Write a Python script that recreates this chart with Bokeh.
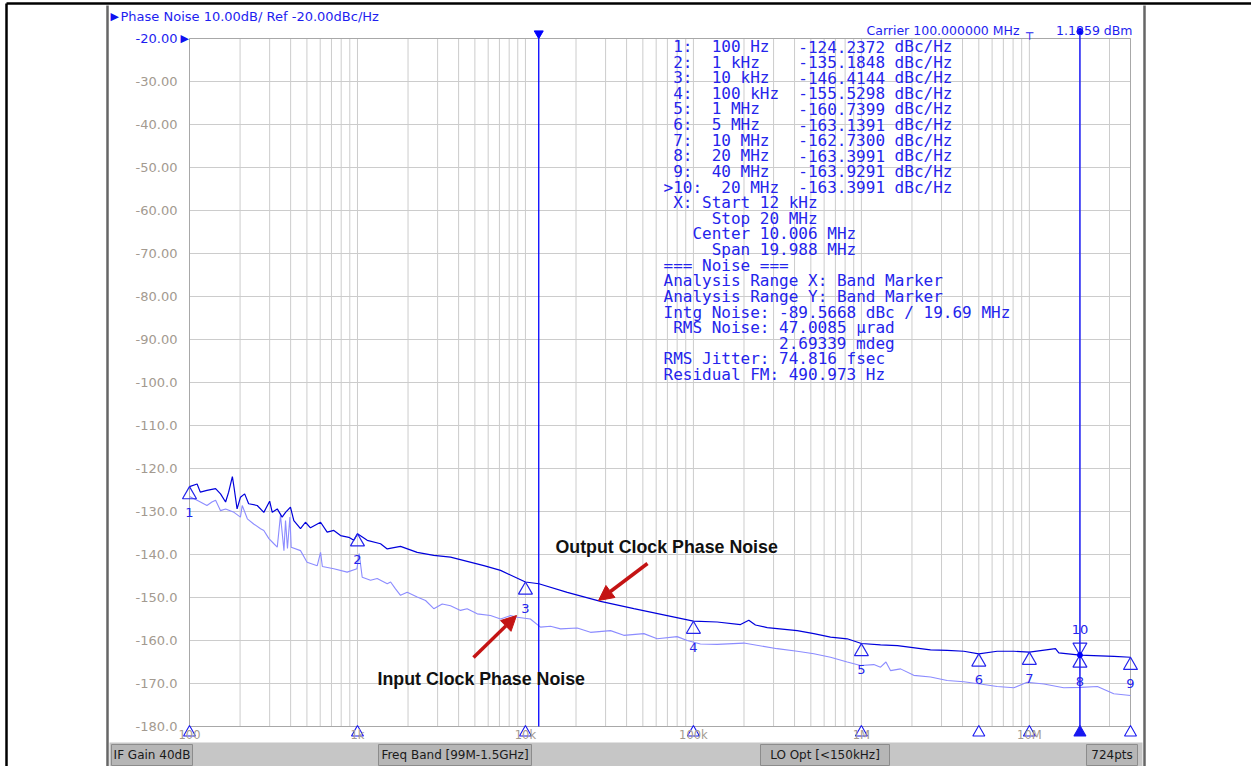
import math
from bokeh.plotting import figure
from bokeh.models import FixedTicker, Arrow, NormalHead, Range1d
from bokeh.embed import file_html
from bokeh.resources import INLINE
from bokeh.core.properties import value

# ---------------- data ----------------
out_freq = [100, 111, 116, 127, 143, 153, 164, 171, 180, 184,
            192, 201, 213, 225, 253, 277, 300, 311, 333, 356,
            373, 399, 418, 458, 490, 525, 603, 660, 723, 793,
            888, 951, 1000, 1143, 1372, 1504, 1804, 2268, 2847, 3580,
            5654, 7109, 10000, 12020, 17740, 28000, 44200, 69800, 100000, 138500,
            190600, 213600, 234000, 274900, 414700, 521000, 655000, 823500, 1.0e6, 1.3e6,
            1.64e6, 2.25e6, 2.58e6, 3.24e6, 4.07e6, 5.0e6, 6.43e6, 8.08e6, 1.0e7, 1.43e7,
            1.497e7, 2.0e7, 3.19e7, 4.0e7]
out_dbc = [-124.2, -123.6, -125.5, -125.1, -124.7, -125.9, -127.8, -125.5, -121.9, -124.3,
           -129.4, -126.7, -125.9, -128.2, -128.6, -130.2, -127.6, -130.2, -129.4, -131.3,
           -130.2, -129.0, -132.1, -134.0, -132.5, -133.8, -132.5, -134.8, -134.4, -135.6,
           -136.0, -136.7, -135.2, -136.7, -137.5, -138.7, -138.1, -139.5, -140.2, -140.6,
           -142.6, -143.7, -146.4, -146.8, -148.8, -150.9, -152.6, -154.2, -155.5, -155.7,
           -156.3, -155.3, -156.4, -157.0, -157.7, -158.4, -159.2, -159.6, -160.7, -161.0,
           -161.2, -161.9, -162.2, -162.3, -162.5, -163.1, -162.5, -162.5, -162.7, -161.9,
           -162.9, -163.4, -163.7, -163.9]

in_freq = [100, 111, 127, 136, 143, 153, 164, 184, 201, 206,
           221, 241, 265, 277, 297, 318, 333, 348, 365, 373,
           383, 396, 403, 458, 501, 576, 603, 618, 723, 868,
           993, 1024, 1067, 1196, 1310, 1504, 1575, 1684, 1804, 1977,
           2268, 2542, 2847, 3195, 3580, 4105, 4495, 5162, 6194, 7109,
           8150, 8930, 10700, 12290, 14100, 16180, 20330, 24400, 32100, 38500,
           50700, 60900, 80000, 91800, 110000, 138500, 199500, 315000, 415000, 521000,
           655000, 823500, 988000, 1.186e6, 1.3e6, 1.4e6, 1.49e6, 1.71e6, 2.05e6, 2.58e6,
           3.24e6, 4.07e6, 5.1e6, 6.43e6, 8.08e6, 9.7e6, 1.22e7, 1.6e7, 2.03e7, 2.54e7,
           3.18e7, 4.0e7]
in_dbc = [-126.5, -127.4, -128.6, -127.8, -127.4, -129.8, -129.4, -130.2, -131.3, -128.6,
          -131.7, -132.9, -134.0, -134.4, -136.3, -137.5, -138.3, -130.9, -139.1, -132.1,
          -138.6, -131.3, -138.3, -139.1, -141.8, -142.6, -139.5, -142.8, -143.3, -144.1,
          -143.3, -139.8, -145.3, -146.0, -145.6, -146.8, -146.4, -148.0, -149.5, -148.8,
          -149.9, -150.7, -152.6, -151.5, -151.9, -153.0, -152.6, -153.8, -154.2, -155.0,
          -154.2, -154.6, -155.0, -156.9, -156.7, -157.3, -157.1, -158.1, -157.7, -158.8,
          -158.4, -159.6, -159.1, -160.0, -160.8, -160.9, -160.6, -161.9, -162.5, -163.1,
          -163.9, -165.0, -165.8, -165.6, -166.2, -165.0, -167.0, -166.6, -168.1, -168.5,
          -169.3, -169.6, -170.1, -170.7, -171.0, -169.7, -170.1, -171.0, -170.9, -170.7,
          -172.4, -172.8]

mk_num = ["1", "2", "3", "4", "5", "6", "7", "8", "9"]
mk_freq = [100, 1e3, 1e4, 1e5, 1e6, 5e6, 1e7, 2e7, 4e7]
mk_freq_lbl = ["100 Hz", "1 kHz", "10 kHz", "100 kHz", "1 MHz", "5 MHz", "10 MHz", "20 MHz", "40 MHz"]
mk_dbc = [-124.2372, -135.1848, -146.4144, -155.5298, -160.7399, -163.1391, -162.7300, -163.3991, -163.9291]
mk10_num = "10"
mk10_freq = 2e7
mk10_freq_lbl = "20 MHz"
mk10_dbc = -163.3991

band_start = 12e3
band_stop = 20e6

info_lines = ["X: Start 12 kHz", "Stop 20 MHz", "Center 10.006 MHz", "Span 19.988 MHz",
              "=== Noise ===", "Analysis Range X: Band Marker", "Analysis Range Y: Band Marker",
              "Intg Noise: -89.5668 dBc / 19.69 MHz", "RMS Noise: 47.0085 µrad", "2.69339 mdeg",
              "RMS Jitter: 74.816 fsec", "Residual FM: 490.973 Hz"]
info_indent = [1, 5, 3, 5, 0, 0, 0, 0, 1, 12, 0, 0]

y_ticks = list(range(-20, -181, -10))
x_major = [100, 1e3, 1e4, 1e5, 1e6, 1e7]
x_major_lbl = ["100", "1k", "10k", "100k", "1M", "10M"]
x_minor = [m * d for d in [100, 1e3, 1e4, 1e5, 1e6, 1e7] for m in range(2, 10) if m * d <= 4e7]

header_text = "Phase Noise 10.00dB/ Ref -20.00dBc/Hz"
ref_text = "-20.00"
carrier_text = "Carrier 100.000000 MHz"
carrier_pow = "1.1859 dBm"
status_items = ["IF Gain 40dB", "Freq Band [99M-1.5GHz]", "LO Opt [<150kHz]", "724pts"]

# ---------------- layout helpers (page pixel -> data) ----------------
W, H = 1251, 766
X_MIN, X_MAX, Y_MIN, Y_MAX = 100, 4e7, -180, -20
FL, FR, FT, FB = 189, 1130, 38, 726
PX_DEC = (FR - FL) / math.log10(X_MAX / X_MIN)
PX_DB = (FB - FT) / (Y_MAX - Y_MIN)


def fx(px):
    return X_MIN * 10 ** ((px - FL) / PX_DEC)


def fy(py):
    return Y_MAX - (py - FT) / PX_DB


BLUE_TXT = "#2424EC"
DARK = "#0000DC"
LIGHT = "#8C8CFF"
GRID = "#CCCCCC"
AXC = "#A39A90"
RED = "#C41414"
SANS = "DejaVu Sans"
MONO = "DejaVu Sans Mono"

p = figure(width=W, height=H, x_axis_type="log",
           x_range=Range1d(fx(0), fx(W)), y_range=Range1d(fy(H), fy(0)),
           output_backend="svg", toolbar_location=None, min_border=0,
           min_border_left=0, min_border_right=0, min_border_top=0, min_border_bottom=0,
           background_fill_color="white", border_fill_color="white", outline_line_color=None)
p.grid.visible = False


def txt(px, py, s, size="13px", color=BLUE_TXT, align="left", font=SANS, style="normal"):
    p.text([fx(px)], [fy(py)], text=[s], text_font=value(font), text_font_size=size,
           text_color=color, text_align=align, text_baseline="middle", text_font_style=style)


# ---------------- window chrome ----------------
p.segment(x0=[fx(6), fx(6)], y0=[fy(3), fy(3)], x1=[fx(W), fx(6)], y1=[fy(3), fy(H)],
          line_color="#000000", line_width=2.5)
p.segment(x0=[fx(107), fx(1144)], y0=[fy(5), fy(5)], x1=[fx(107), fx(1144)], y1=[fy(H), fy(H)],
          line_color="#666666", line_width=2.5)
p.quad(left=[fx(109)], right=[fx(1142)], bottom=[fy(H)], top=[fy(742)],
       fill_color="#C6C6C6", line_color=None)
box_l = [111, 378, 760, 1086]
box_r = [192, 531, 889, 1137]
p.quad(left=[fx(v) for v in box_l], right=[fx(v) for v in box_r], bottom=fy(765), top=fy(744),
       fill_color="#B6B6B6", line_color="#8C8C8C")
p.text([fx((a + b) / 2) for a, b in zip(box_l, box_r)], [fy(754.5)] * 4, text=status_items,
       text_align="center", text_baseline="middle", text_font=value(SANS),
       text_font_size="12px", text_color="#1A1A1A")

# ---------------- plot grid & box ----------------
p.segment(x0=x_minor + x_major, y0=Y_MIN, x1=x_minor + x_major, y1=Y_MAX, line_color=GRID, line_width=1)
p.segment(x0=X_MIN, y0=y_ticks, x1=X_MAX, y1=y_ticks, line_color=GRID, line_width=1)
p.quad(left=[X_MIN], right=[X_MAX], bottom=[Y_MIN], top=[Y_MAX], fill_color=None,
       line_color="#A8A8A8", line_width=1)

# axes drawn inside the frame at the plot box edges
p.xaxis.fixed_location = Y_MIN
p.xaxis.ticker = FixedTicker(ticks=x_major, minor_ticks=x_minor)
p.xaxis.major_label_overrides = {v: l for v, l in zip(x_major, x_major_lbl)}
p.xaxis.axis_line_color = None
p.xaxis.major_tick_line_color = None
p.xaxis.minor_tick_line_color = None
p.xaxis.major_tick_out = 0
p.xaxis.minor_tick_out = 0
p.xaxis.major_label_standoff = 1
p.xaxis.major_label_text_font_size = "11.5px"
p.xaxis.major_label_text_font = SANS
p.xaxis.major_label_text_color = AXC

p.yaxis.fixed_location = X_MIN
p.yaxis.ticker = FixedTicker(ticks=y_ticks)
p.yaxis.major_label_overrides = {v: ("" if v == -20 else (f"{v:.2f}" if abs(v) < 100 else f"{v:.1f}")) for v in y_ticks}
p.yaxis.axis_line_color = None
p.yaxis.major_tick_line_color = None
p.yaxis.minor_tick_line_color = None
p.yaxis.major_tick_out = 0
p.yaxis.minor_tick_out = 0
p.yaxis.major_label_standoff = 12
p.yaxis.major_label_text_font_size = "13px"
p.yaxis.major_label_text_font = SANS
p.yaxis.major_label_text_color = AXC

# ---------------- traces ----------------
p.line(in_freq, in_dbc, line_color=LIGHT, line_width=1.1)
p.line(out_freq, out_dbc, line_color=DARK, line_width=1.2)

# band marker lines
p.segment(x0=[band_start, band_stop], y0=[Y_MIN, Y_MIN], x1=[band_start, band_stop], y1=[Y_MAX, fy(28)],
          line_color="#0000FF", line_width=1.3)
p.scatter([band_start], [fy(33)], marker="inverted_triangle", size=9, fill_color="#0000FF", line_color="#0000FF")
p.scatter([band_stop], [fy(31)], marker="circle", size=6, fill_color="#0000FF", line_color="#0000FF")

# markers on trace
TRI_DB = 8 / PX_DB
p.scatter(mk_freq, [v - TRI_DB for v in mk_dbc], marker="triangle", size=14,
          fill_alpha=0, line_color=BLUE_TXT, line_width=1.2)
p.text(mk_freq, mk_dbc, text=mk_num, y_offset=26, text_align="center", text_baseline="middle",
       text_font=value(SANS), text_font_size="13px", text_color=BLUE_TXT)
p.scatter([mk10_freq], [mk10_dbc + TRI_DB], marker="inverted_triangle", size=14,
          fill_alpha=0, line_color=BLUE_TXT, line_width=1.2)
p.text([mk10_freq], [mk10_dbc], text=[mk10_num], y_offset=-26, text_align="center", text_baseline="middle",
       text_font=value(SANS), text_font_size="13px", text_color=BLUE_TXT)
p.scatter([mk10_freq], [mk10_dbc], marker="circle", size=5, fill_color="#0000FF", line_color="#0000FF")

# marker symbols on the frequency axis
p.scatter(mk_freq, [fy(732)] * len(mk_freq), marker="triangle", size=12,
          fill_color=["#1818F0" if f == band_stop else None for f in mk_freq],
          line_color="#1818F0", line_width=1.1)

# marker table
CW = 9.63
ROW0, ROWH = 46, 15.62
rows_y = [fy(ROW0 + i * ROWH) for i in range(len(mk_num) + 1)]
idx_txt = [f"{n}:" for n in mk_num] + [f">{mk10_num}:"]
idx_col = [1] * len(mk_num) + [0]
frq_txt = mk_freq_lbl + [mk10_freq_lbl]
frq_col = [5] * len(mk_num) + [6]
val_txt = [f"{v:.4f}" for v in mk_dbc + [mk10_dbc]]
tab_font = dict(text_font=value(MONO), text_font_size="16px", text_color=BLUE_TXT,
                text_baseline="middle", text_align="left")
p.text([fx(663 + c * CW) for c in idx_col], rows_y, text=idx_txt, **tab_font)
p.text([fx(663 + c * CW) for c in frq_col], rows_y, text=frq_txt, **tab_font)
p.text([fx(663 + 14 * CW)] * len(rows_y), rows_y, text=val_txt, **tab_font)
p.text([fx(663 + 24 * CW)] * len(rows_y), rows_y, text=["dBc/Hz"] * len(rows_y), **tab_font)
n0 = len(rows_y)
p.text([fx(663 + c * CW) for c in info_indent],
       [fy(ROW0 + (n0 + i) * ROWH) for i in range(len(info_lines))],
       text=info_lines, **tab_font)

# header texts
txt(110, 16, "▶", size="11px", color="#1010F0")
txt(120, 16, header_text, size="13px", color="#1E1EF0")
txt(177, 38, ref_text, size="13px", color="#1E1EF0", align="right")
txt(180, 38, "▶", size="11px", color="#1010F0")
txt(1019, 30, carrier_text, size="12.5px", color="#1E1EF0", align="right")
txt(1029, 32, "┬", size="12px", color="#1E1EF0", align="center")
txt(1132, 30, carrier_pow, size="12.5px", color="#1E1EF0", align="right")

# callouts
txt(555, 546, "Output Clock Phase Noise", size="17.8px", color="#111111", font="Liberation Sans", style="bold")
txt(377, 678, "Input Clock Phase Noise", size="17.8px", color="#111111", font="Liberation Sans", style="bold")
p.add_layout(Arrow(end=NormalHead(size=15, fill_color=RED, line_color=RED),
                   x_start=fx(647), y_start=fy(563), x_end=fx(598), y_end=fy(600),
                   line_color=RED, line_width=3.5))
p.add_layout(Arrow(end=NormalHead(size=15, fill_color=RED, line_color=RED),
                   x_start=fx(473), y_start=fy(657), x_end=fx(516), y_end=fy(615),
                   line_color=RED, line_width=3.5))

open("out.html", "w").write(file_html(p, INLINE))
